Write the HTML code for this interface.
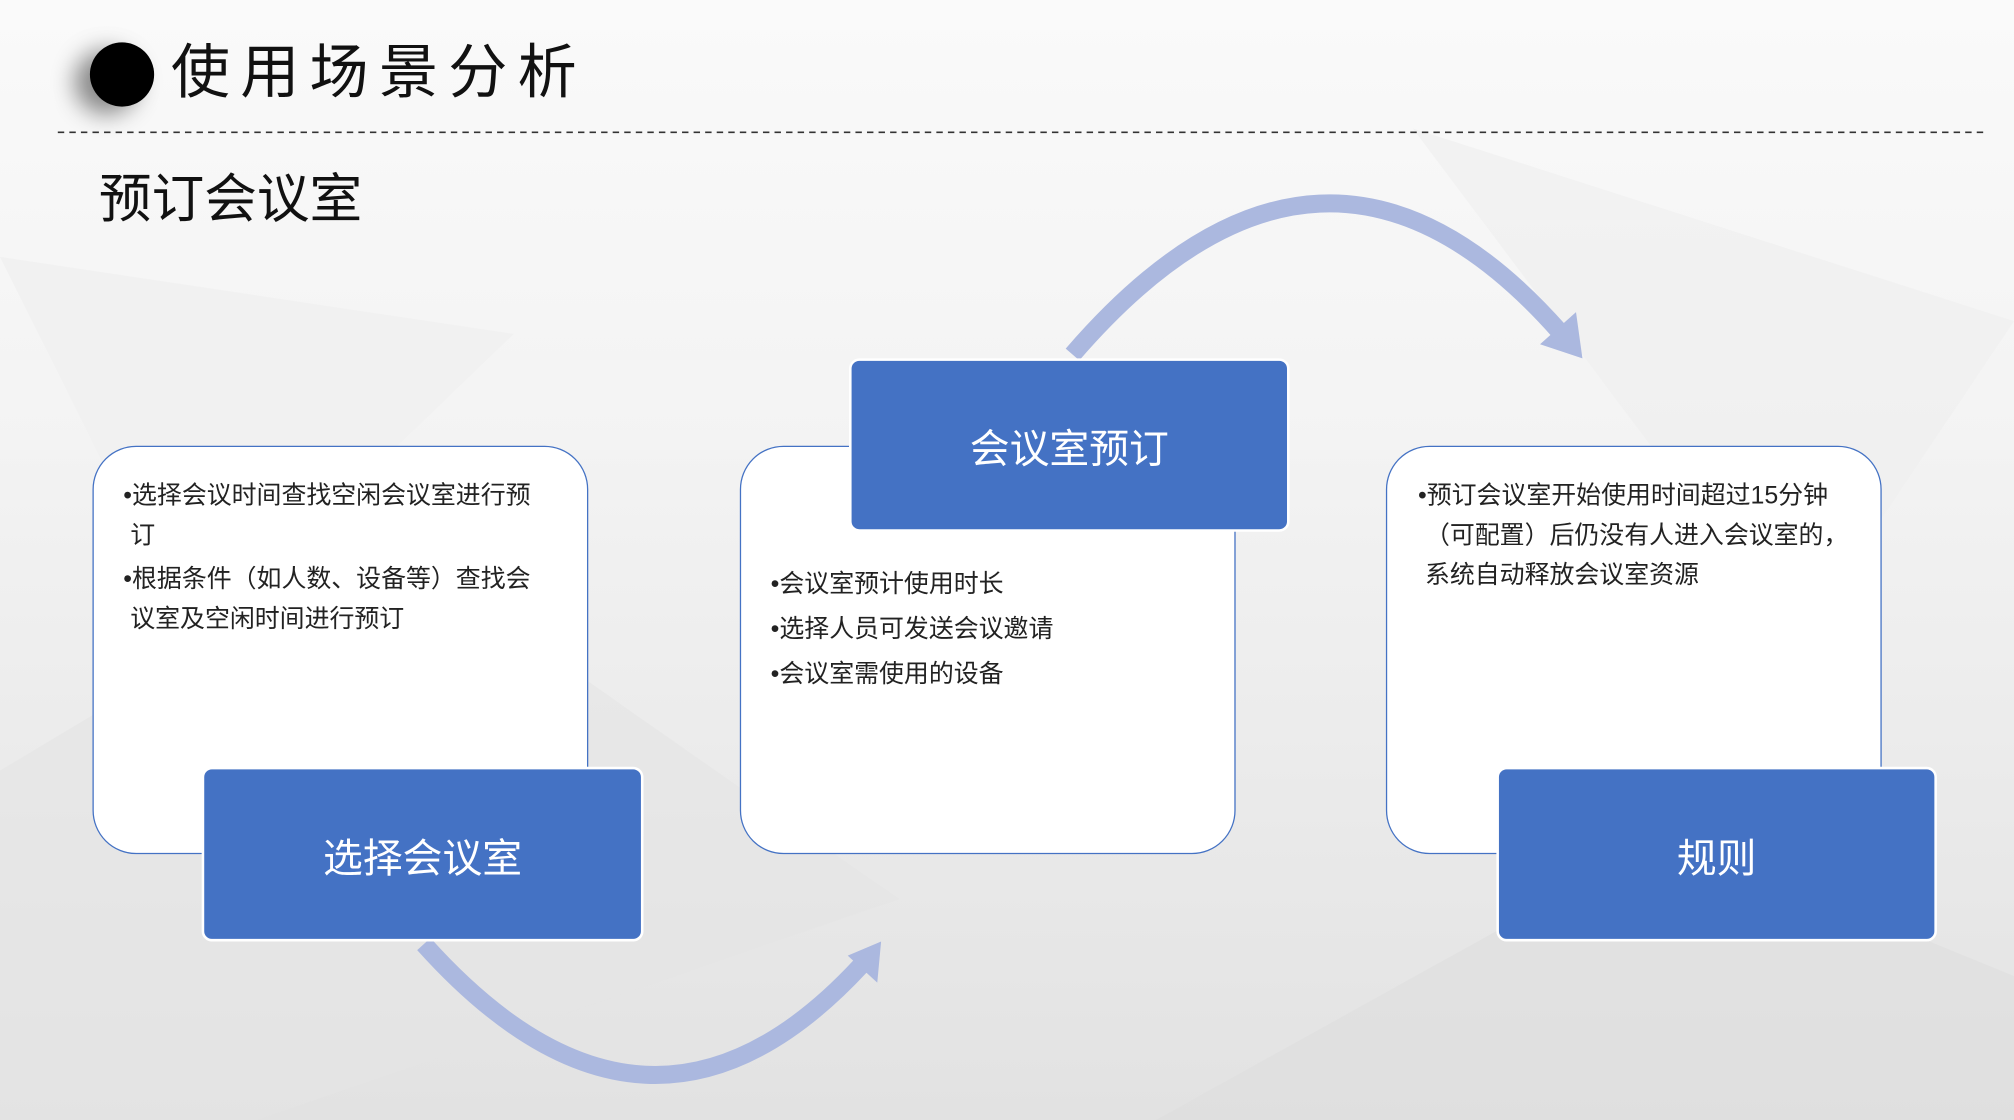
<!DOCTYPE html>
<html><head><meta charset="utf-8"><style>
html,body{margin:0;padding:0;width:2014px;height:1120px;overflow:hidden}
#s{position:absolute;left:0;top:0;width:1568px;height:872px;transform:scale(1.28444);transform-origin:0 0;
background:linear-gradient(180deg,#fafafa 0%,#f3f3f3 40%,#e9e9e9 75%,#e2e2e2 100%);
font-family:"Liberation Sans","Noto Sans CJK SC",sans-serif;overflow:hidden}
.abs{position:absolute}
.box{position:absolute;background:#fff;border:1.5px solid #4472c4;border-radius:34px;box-sizing:border-box}
.blue{position:absolute;background:#4472c4;border-radius:8px;color:#fff;font-size:31px;display:flex;align-items:center;justify-content:center;border:2px solid #fff;box-sizing:border-box}
.t{position:absolute;font-size:19.4px;line-height:31px;color:#222}
</style></head><body><div id="s">
<svg class="abs" style="left:0;top:0" width="1568" height="872">
<polygon points="0,600 300,420 700,700 200,872 0,872" fill="#e4e4e4" opacity=".6"/>
<polygon points="900,872 1300,650 1568,760 1568,872" fill="#dedede" opacity=".6"/>
<polygon points="0,200 400,260 150,500" fill="#f0f0f0" opacity=".7"/>
<polygon points="1100,100 1568,250 1400,500" fill="#eeeeee" opacity=".6"/>
<line x1="45" y1="103" x2="1545" y2="103" stroke="#333" stroke-width="1.3" stroke-dasharray="5,4"/>
<path d="M835,276 Q1030,50 1214,258" fill="none" stroke="#abb8df" stroke-width="14"/>
<polygon points="1232,279 1199,268 1227,243" fill="#abb8df"/>
<path d="M330,735 Q505,930 670,752" fill="none" stroke="#abb8df" stroke-width="14"/>
<polygon points="686,733 660,744 683,765" fill="#abb8df"/>
</svg>
<div class="abs" style="left:70px;top:33px;width:50px;height:50px;border-radius:50%;background:#000;box-shadow:-12px 6px 18px rgba(0,0,0,.45)"></div>
<div class="abs" style="left:133px;top:26px;font-size:46px;letter-spacing:8px;color:#111;line-height:60px">使用场景分析</div>
<div class="abs" style="left:77px;top:128px;font-size:41px;color:#111;line-height:54px">预订会议室</div>

<div class="box" style="left:72px;top:347px;width:386px;height:318px"></div>
<div class="t" style="left:96px;top:371px;width:340px">•选择会议时间查找空闲会议室进行预<br>&nbsp;订<br><div style="height:3px"></div>•根据条件（如人数、设备等）查找会<br>&nbsp;议室及空闲时间进行预订</div>
<div class="blue" style="left:157px;top:597px;width:344px;height:136px">选择会议室</div>

<div class="box" style="left:576px;top:347px;width:386px;height:318px"></div>
<div class="t" style="left:600px;top:438px;line-height:35px">•会议室预计使用时长<br>•选择人员可发送会议邀请<br>•会议室需使用的设备</div>
<div class="blue" style="left:661px;top:279px;width:343px;height:135px">会议室预订</div>

<div class="box" style="left:1079px;top:347px;width:386px;height:318px"></div>
<div class="t" style="left:1104px;top:371px">•预订会议室开始使用时间超过15分钟<br>&nbsp;（可配置）后仍没有人进入会议室的，<br>&nbsp;系统自动释放会议室资源</div>
<div class="blue" style="left:1165px;top:597px;width:343px;height:136px">规则</div>
</div></body></html>
